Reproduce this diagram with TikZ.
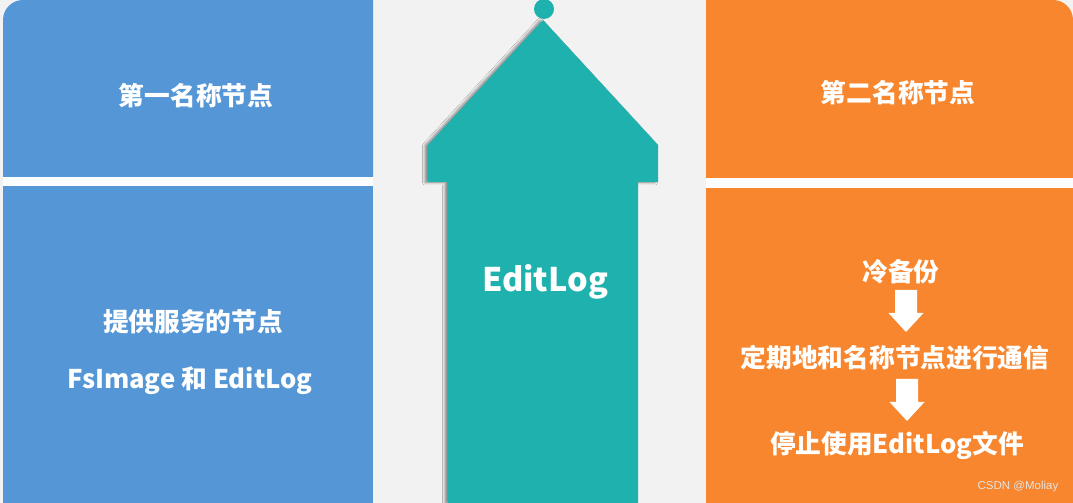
\documentclass[tikz,border=0pt]{standalone}
\usepackage{fontspec}
\setmainfont{Noto Sans CJK SC}
\newfontfamily\wm{Liberation Sans}
\usetikzlibrary{shadows.blur}
\definecolor{bg}{HTML}{F2F2F2}
\definecolor{bluep}{HTML}{5597D6}
\definecolor{orangep}{HTML}{F8862E}
\definecolor{tealp}{HTML}{1FB1AD}
\definecolor{stripc}{HTML}{FBFCFD}
\definecolor{wmc}{HTML}{E4E4E4}
\tikzset{
  lbl/.style={text=white, font=\bfseries\fontsize{25.7}{30}\selectfont, inner sep=0pt},
  biglbl/.style={text=white, font=\bfseries\fontsize{32.5}{38}\selectfont, inner sep=0pt},
  downarr/.style={fill=white},
  tealshape/.style={fill=tealp, blur shadow={shadow xshift=-3pt, shadow yshift=-0.5pt, shadow blur steps=6, shadow blur radius=2.5pt, shadow opacity=45}},
}
\begin{document}
\begin{tikzpicture}[x=1pt,y=1pt]
\useasboundingbox (0,0) rectangle (1073,503);
\fill[bg] (0,0) rectangle (1073,503);
% left panels
\fill[bluep] (3,326) -- (3,483) arc[start angle=180,end angle=90,radius=20pt] -- (373,503) -- (373,326) -- cycle;
\fill[stripc] (3,317) rectangle (373,326);
\fill[bluep] (3,0) rectangle (373,317);
% right panels
\fill[orangep] (706,325) -- (706,503) -- (1053,503) arc[start angle=90,end angle=0,radius=20pt] -- (1073,325) -- cycle;
\fill[stripc] (706,315) rectangle (1073,325);
\fill[orangep] (706,0) rectangle (1073,315);
% central arrow
\path[tealshape] (543,483) -- (658,358) -- (658,321) -- (638,321) -- (638,0) -- (448,0) -- (448,321) -- (428,321) -- (428,358) -- cycle;
\node[circle, fill=tealp, minimum size=20pt, inner sep=0pt] (knob) at (544,494) {};
\node[biglbl] (edit) at (545,221) {EditLog};
% left texts
\node[lbl] (nn1) at (196,407) {第一名称节点};
\node[lbl] (serve) at (193,181) {提供服务的节点};
\node[lbl] (fs) at (190,122) {FsImage 和 EditLog};
% right texts
\node[lbl] (nn2) at (898,410) {第二名称节点};
\node[lbl] (cold) at (901,231) {冷备份};
\node[lbl] (periodic) at (895,145) {定期地和名称节点进行通信};
\node[lbl] (stop) at (897,58) {停止使用EditLog文件};
% down arrows
\coordinate (a1) at (906,192);
\coordinate (a2) at (907,103);
\foreach \c in {a1,a2}{
  \fill[downarr] ([shift={(-11,21)}]\c) -- ++(22,0) -- ++(0,-23) -- ++(6.5,0) -- ++(-17.5,-19) -- ++(-17.5,19) -- ++(6.5,0) -- cycle;
}
\node[text=wmc, font=\wm\fontsize{11.5}{14}\selectfont, inner sep=0pt] (wm) at (1018,16) {CSDN @Moliay};
\end{tikzpicture}
\end{document}
